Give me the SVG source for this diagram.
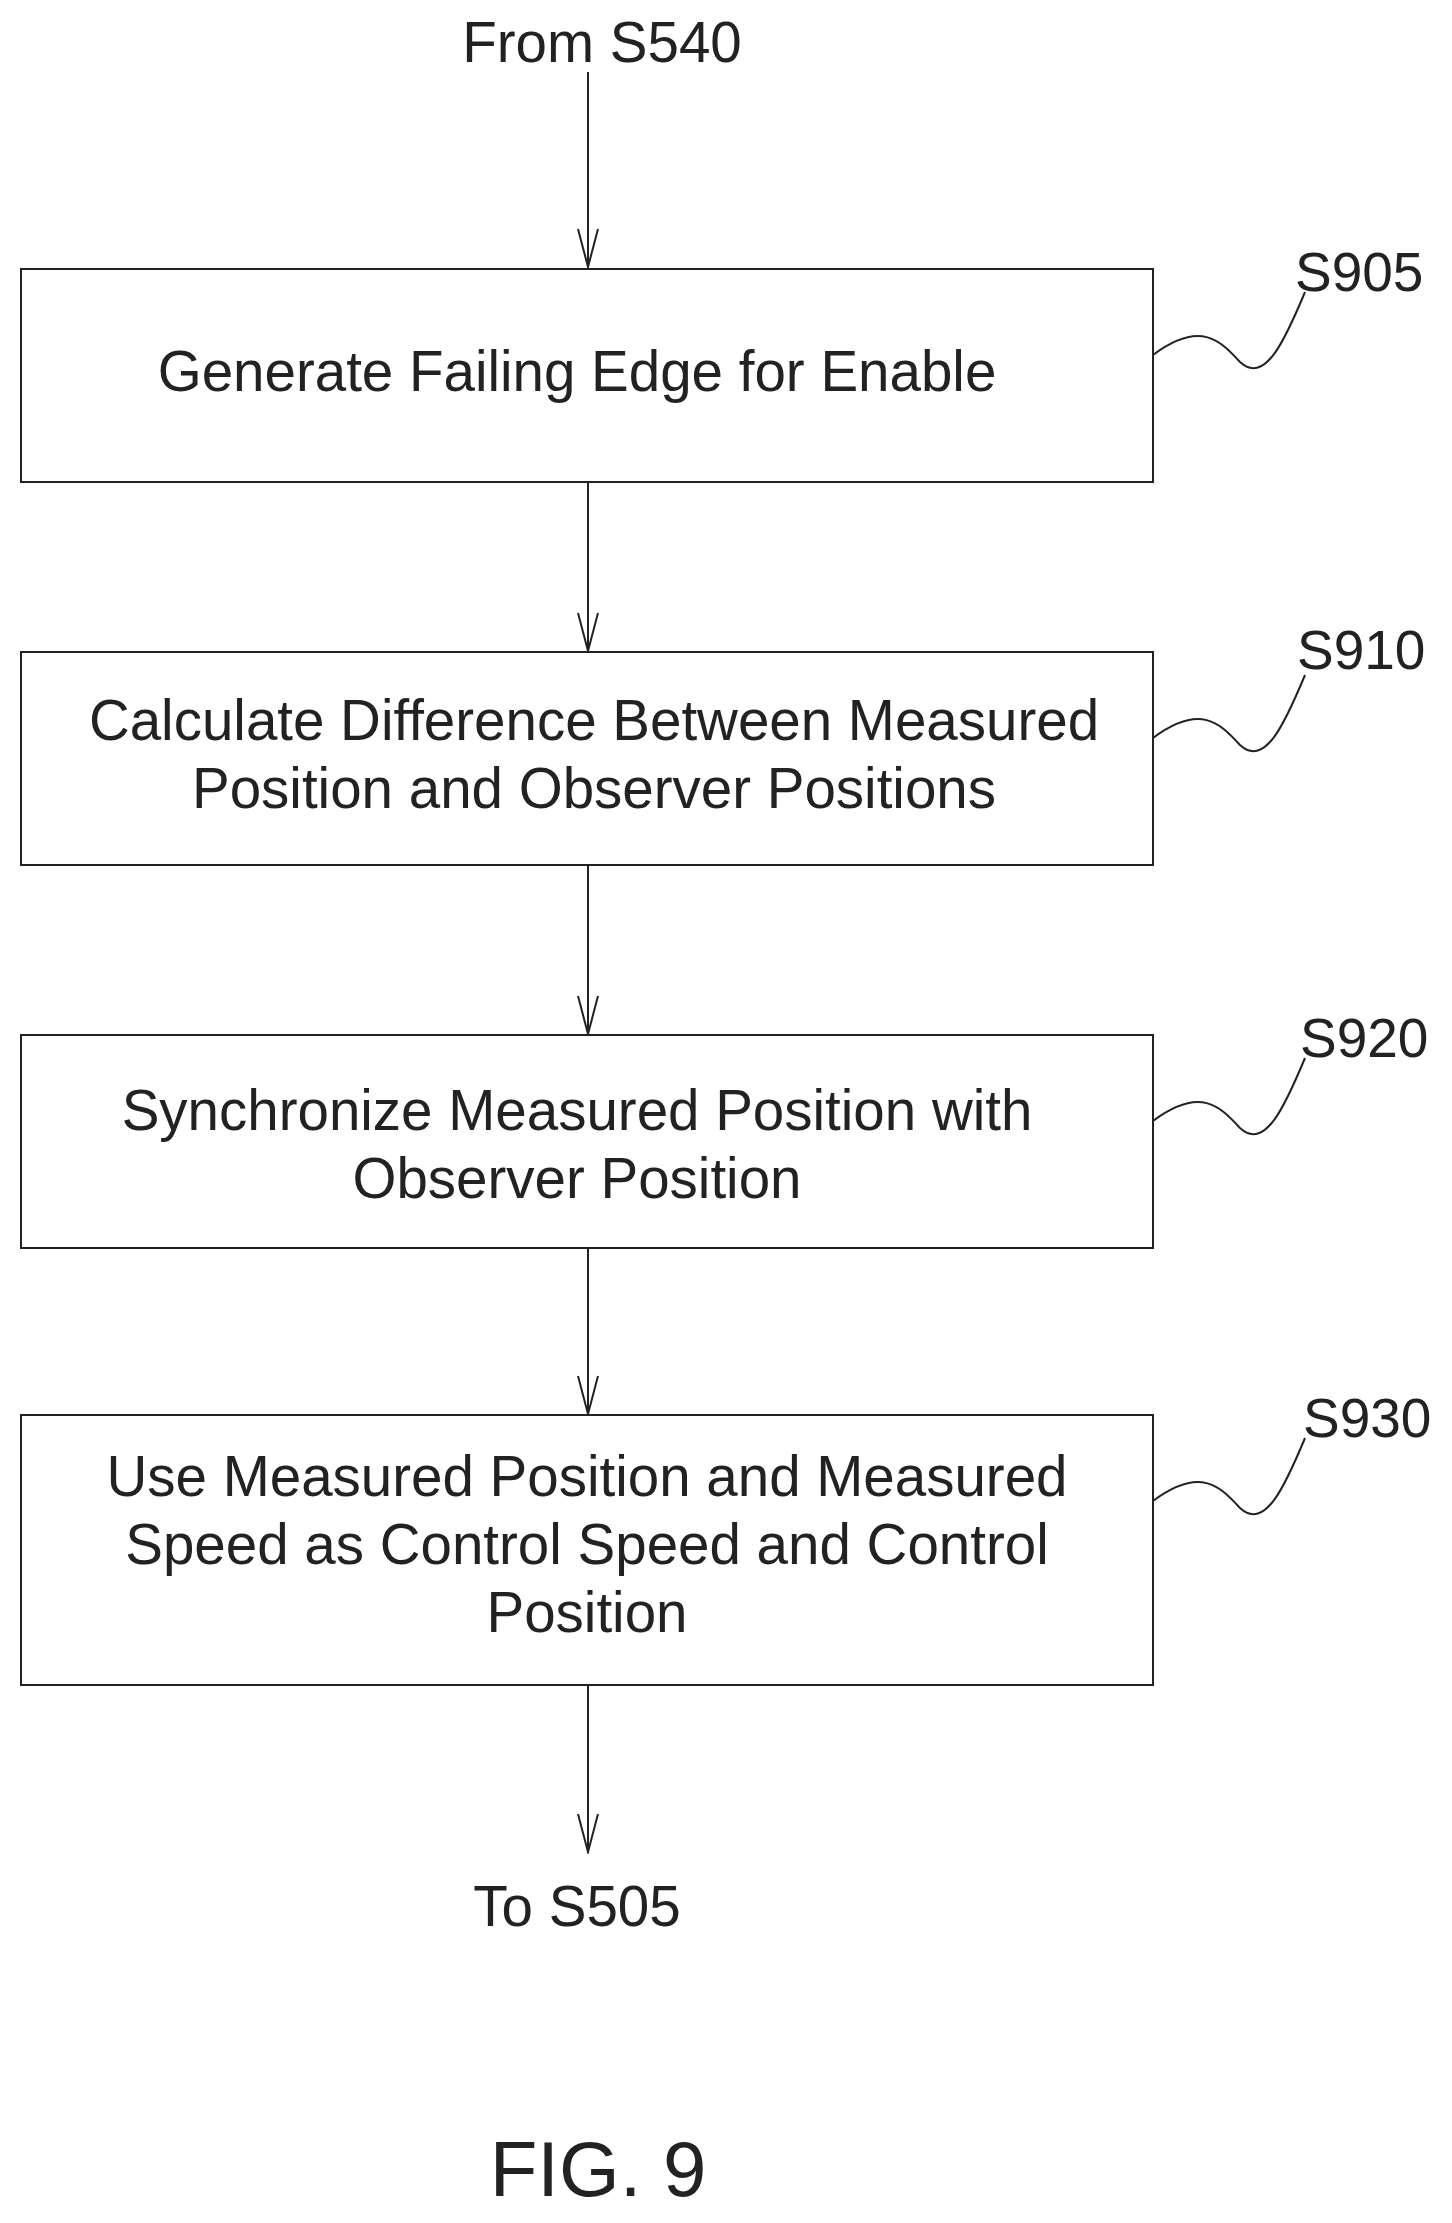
<svg xmlns="http://www.w3.org/2000/svg" width="1452" height="2223" viewBox="0 0 1452 2223">
<style>
.b{fill:#fff;stroke:#222;stroke-width:2}
.t{font-family:"Liberation Sans",Arial,sans-serif;font-size:56.5px;fill:#222;text-anchor:middle}
.l{font-family:"Liberation Sans",Arial,sans-serif;font-size:55px;fill:#222}
.c{fill:none;stroke:#222;stroke-width:2}
</style>
<defs><marker id="a" markerWidth="42" markerHeight="22" refX="40" refY="11" orient="auto" markerUnits="userSpaceOnUse"><path d="M2,1 L40,11 L2,21" fill="none" stroke="#222" stroke-width="2"/></marker></defs>
<rect width="1452" height="2223" fill="#fff"/>
<g id="connectors">
<line class="c" x1="588" y1="72" x2="588" y2="267" marker-end="url(#a)"/>
<line class="c" x1="588" y1="482" x2="588" y2="651" marker-end="url(#a)"/>
<line class="c" x1="588" y1="865" x2="588" y2="1034" marker-end="url(#a)"/>
<line class="c" x1="588" y1="1248" x2="588" y2="1414" marker-end="url(#a)"/>
<line class="c" x1="588" y1="1685" x2="588" y2="1852" marker-end="url(#a)"/>
<path class="c" d="M1153,355 C1200,320 1220,340 1240,362 C1265,385 1285,340 1305,292"/>
<path class="c" d="M1153,738 C1200,703 1220,723 1240,745 C1265,768 1285,723 1305,675"/>
<path class="c" d="M1153,1121 C1200,1086 1220,1106 1240,1128 C1265,1151 1285,1106 1305,1058"/>
<path class="c" d="M1153,1501 C1200,1466 1220,1486 1240,1508 C1265,1531 1285,1486 1305,1438"/>
</g>
<text class="t" x="602" y="62">From S540</text>
<g id="s905"><rect class="b" x="21" y="269" width="1132" height="213"/><text class="t" x="577" y="391">Generate Failing Edge for Enable</text><text class="l" x="1295" y="291">S905</text></g>
<g id="s910"><rect class="b" x="21" y="652" width="1132" height="213"/><text class="t" x="594" y="740">Calculate Difference Between Measured</text><text class="t" x="594" y="808">Position and Observer Positions</text><text class="l" x="1297" y="669">S910</text></g>
<g id="s920"><rect class="b" x="21" y="1035" width="1132" height="213"/><text class="t" x="577" y="1130">Synchronize Measured Position with</text><text class="t" x="577" y="1198">Observer Position</text><text class="l" x="1300" y="1057">S920</text></g>
<g id="s930"><rect class="b" x="21" y="1415" width="1132" height="270"/><text class="t" x="587" y="1496">Use Measured Position and Measured</text><text class="t" x="587" y="1564">Speed as Control Speed and Control</text><text class="t" x="587" y="1632">Position</text><text class="l" x="1303" y="1437">S930</text></g>
<text class="t" x="577" y="1926">To S505</text>
<text class="t" x="598" y="2196" style="font-size:78px">FIG. 9</text>
</svg>
